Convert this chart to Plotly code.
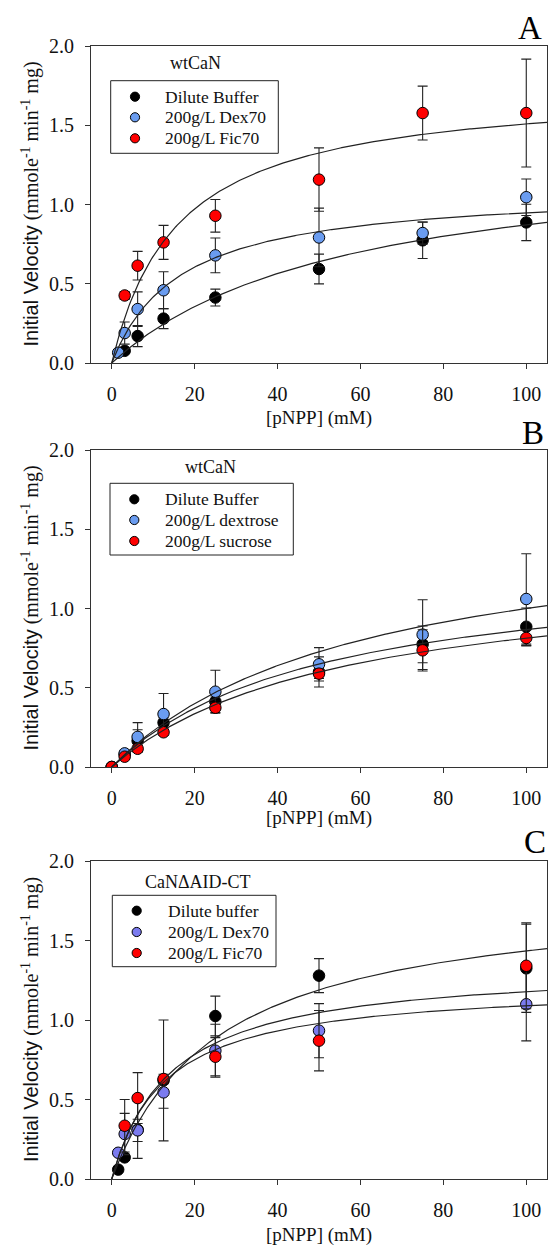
import numpy as np
import plotly.graph_objects as go

# ---------------- data ----------------
# Panel A (wtCaN, crowders)
A_dil_x = [3.125, 6.25, 12.5, 25, 50, 75, 100]
A_dil_y = [0.077, 0.17, 0.28, 0.413, 0.593, 0.774, 0.887]
A_dil_e = [0.012, 0.067, 0.063, 0.053, 0.094, 0.115, 0.115]
A_dex_x = [1.5625, 3.125, 6.25, 12.5, 25, 50, 75, 100]
A_dex_y = [0.065, 0.189, 0.34, 0.459, 0.679, 0.792, 0.82, 1.046]
A_dex_e = [0.01, 0.07, 0.109, 0.117, 0.11, 0.185, 0.07, 0.115]
A_fic_x = [3.125, 6.25, 12.5, 25, 50, 75, 100]
A_fic_y = [0.426, 0.614, 0.761, 0.929, 1.157, 1.577, 1.577]
A_fic_e = [0.025, 0.09, 0.107, 0.103, 0.2, 0.17, 0.34]
A_fit = {"dil": (1.368, 56.9), "dex": (1.104, 16.5), "fic": (1.75, 16.0)}
A_names = ["Dilute Buffer", "200g/L Dex70", "200g/L Fic70"]

# Panel B (wtCaN, sugars)
B_x = [0, 3.125, 6.25, 12.5, 25, 50, 75, 100]
B_dil_y = [0, 0.08, 0.165, 0.28, 0.412, 0.60, 0.774, 0.885]
B_dil_e = [0, 0.01, 0.07, 0.03, 0.03, 0.095, 0.116, 0.118]
B_dex_y = [0, 0.086, 0.19, 0.334, 0.475, 0.648, 0.835, 1.06]
B_dex_e = [0, 0.02, 0.09, 0.13, 0.135, 0.105, 0.22, 0.285]
B_suc_y = [0, 0.065, 0.115, 0.219, 0.374, 0.589, 0.736, 0.814]
B_suc_e = [0, 0.01, 0.02, 0.02, 0.03, 0.03, 0.13, 0.05]
B_fit = {"dil": (1.30, 50.0), "dex": (1.60, 60.0), "suc": (1.26, 55.0)}
B_names = ["Dilute Buffer", "200g/L dextrose", "200g/L sucrose"]

# Panel C (CaNΔAID-CT, crowders)
C_dil_x = [1.5625, 3.125, 6.25, 12.5, 25, 50, 100]
C_dil_y = [0.059, 0.136, 0.31, 0.62, 1.025, 1.279, 1.325]
C_dil_e = [0.01, 0.02, 0.18, 0.38, 0.125, 0.107, 0.277]
C_dex_x = [1.5625, 3.125, 6.25, 12.5, 25, 50, 100]
C_dex_y = [0.165, 0.283, 0.306, 0.545, 0.807, 0.933, 1.099]
C_dex_e = [0.01, 0.13, 0.07, 0.1, 0.166, 0.17, 0.23]
C_fic_x = [3.125, 6.25, 12.5, 25, 50, 100]
C_fic_y = [0.335, 0.509, 0.629, 0.769, 0.87, 1.341]
C_fic_e = [0.165, 0.16, 0.03, 0.12, 0.19, 0.27]
C_fit = {"dil": (1.806, 25.9), "dex": (1.228, 12.7), "fic": (1.348, 14.4)}
C_names = ["Dilute buffer", "200g/L Dex70", "200g/L Fic70"]

x_ticks = [0, 20, 40, 60, 80, 100]
y_ticks = [0.0, 0.5, 1.0, 1.5, 2.0]

BLACK = "#000000"
BLUE = "#6a9cf0"
BLUE_C = "#7b7bef"
RED = "#ff0000"

SERIF = "Liberation Serif"
W, H = 549, 1246

fig = go.Figure()

def add_points(x, y, e, color, name, xa, ya):
    fig.add_trace(go.Scatter(
        x=x, y=y, mode="markers", name=name,
        marker=dict(size=11.5, color=color, line=dict(color="#000", width=1)),
        error_y=dict(type="data", array=e, visible=True, color="#222",
                     thickness=1.1, width=5),
        xaxis=xa, yaxis=ya, showlegend=False))

def add_fit(params, xa, ya):
    vm, km = params
    xs = np.linspace(0, 105, 300)
    fig.add_trace(go.Scatter(
        x=xs, y=vm * xs / (km + xs), mode="lines",
        line=dict(color="#222", width=1.2),
        xaxis=xa, yaxis=ya, showlegend=False, hoverinfo="skip"))

# Panel A
add_points(A_dil_x, A_dil_y, A_dil_e, BLACK, A_names[0], "x", "y")
add_points(A_dex_x, A_dex_y, A_dex_e, BLUE, A_names[1], "x", "y")
add_points(A_fic_x, A_fic_y, A_fic_e, RED, A_names[2], "x", "y")
for k in ["dil", "dex", "fic"]:
    add_fit(A_fit[k], "x", "y")

# Panel B
add_points(B_x, B_dil_y, B_dil_e, BLACK, B_names[0], "x2", "y2")
add_points(B_x, B_dex_y, B_dex_e, BLUE, B_names[1], "x2", "y2")
add_points(B_x, B_suc_y, B_suc_e, RED, B_names[2], "x2", "y2")
for k in ["dil", "dex", "suc"]:
    add_fit(B_fit[k], "x2", "y2")

# Panel C
add_points(C_dil_x, C_dil_y, C_dil_e, BLACK, C_names[0], "x3", "y3")
add_points(C_dex_x, C_dex_y, C_dex_e, BLUE_C, C_names[1], "x3", "y3")
add_points(C_fic_x, C_fic_y, C_fic_e, RED, C_names[2], "x3", "y3")
for k in ["dil", "dex", "fic"]:
    add_fit(C_fit[k], "x3", "y3")

def px(x):
    return x / W

def py(y):
    return (H - y) / H

xdom = [px(91), px(547)]
panels = [(46, 363), (450, 767), (861, 1179)]

axis_common = dict(showline=True, mirror=True, linecolor="#333", linewidth=1,
                   ticks="outside", ticklen=5, tickcolor="#333",
                   showgrid=False, zeroline=False,
                   tickfont=dict(family=SERIF, size=20, color="#111"))

layout = dict(width=W, height=H,
              margin=dict(l=0, r=0, t=0, b=0, autoexpand=False),
              paper_bgcolor="white", plot_bgcolor="white", showlegend=False)

for i, (top, bot) in enumerate(panels):
    sfx = "" if i == 0 else str(i + 1)
    layout["xaxis" + sfx] = dict(axis_common, domain=xdom, range=[-5, 105],
                                 tickvals=x_ticks, anchor="y" + sfx,
                                 ticklabelstandoff=8)
    layout["yaxis" + sfx] = dict(axis_common, domain=[py(bot), py(top)],
                                 range=[0, 2], tickvals=y_ticks, tickformat=".1f",
                                 anchor="x" + sfx, ticklabelstandoff=7)

fig.update_layout(**layout)

ann = []
shapes = []
ytitle = ("<span style='font-family:Liberation Sans'>Initial Velocity</span> "
          "(mmole<sup>-1</sup> min<sup>-1</sup> mg)")
xtitle_y = [418, 818, 1235]
letters = [("A", 544, 28), ("B", 546, 433), ("C", 548, 842)]
subtitles = [("wtCaN", 195, 62.7), ("wtCaN", 210, 467), ("CaNΔAID-CT", 198, 881.7)]

# legend boxes: (left, top, right, bottom), marker x, text x, row ys
legend_geo = [
    ((110.7, 80.7, 278.3, 153.3), 135.0, 163.3, [96.7, 117.3, 138.3]),
    ((110.0, 483.3, 293.3, 555.0), 134.3, 163.3, [499.3, 520.0, 541.0]),
    ((112.3, 895.3, 276.0, 966.7), 136.7, 166.0, [910.7, 932.0, 953.0]),
]
legend_names = [A_names, B_names, C_names]
legend_colors = [[BLACK, BLUE, RED], [BLACK, BLUE, RED], [BLACK, BLUE_C, RED]]

for i, (top, bot) in enumerate(panels):
    ann.append(dict(text=ytitle, x=px(30), y=py((top + bot) / 2), xref="paper",
                    yref="paper", showarrow=False, textangle=-90,
                    xanchor="center", yanchor="middle",
                    font=dict(family=SERIF, size=20, color="#111")))
    ann.append(dict(text="[pNPP] (mM)", x=px(319), y=py(xtitle_y[i]), xref="paper",
                    yref="paper", showarrow=False, xanchor="center",
                    yanchor="middle", font=dict(family=SERIF, size=19, color="#111")))
    t, lx, ly = letters[i]
    ann.append(dict(text=t, x=px(lx), y=py(ly), xref="paper", yref="paper",
                    showarrow=False, xanchor="right", yanchor="middle",
                    font=dict(family=SERIF, size=33, color="#000")))
    s, sx, sy = subtitles[i]
    ann.append(dict(text=s, x=px(sx), y=py(sy), xref="paper", yref="paper",
                    showarrow=False, xanchor="center", yanchor="middle",
                    font=dict(family=SERIF, size=18, color="#111")))
    (l, tp, r, bt), mx, tx, rows = legend_geo[i]
    shapes.append(dict(type="rect", xref="paper", yref="paper",
                       x0=px(l), x1=px(r), y0=py(bt), y1=py(tp),
                       line=dict(color="#222", width=1), fillcolor="white",
                       layer="above"))
    for name, col, ry in zip(legend_names[i], legend_colors[i], rows):
        rad = 4.6
        shapes.append(dict(type="circle", xref="paper", yref="paper",
                           x0=px(mx - rad), x1=px(mx + rad),
                           y0=py(ry + rad), y1=py(ry - rad),
                           line=dict(color="#000", width=1), fillcolor=col,
                           layer="above"))
        ann.append(dict(text=name, x=px(tx), y=py(ry), xref="paper", yref="paper",
                        showarrow=False, xanchor="left", yanchor="middle",
                        font=dict(family=SERIF, size=17.5, color="#111")))

fig.update_layout(annotations=ann, shapes=shapes)

fig.write_html("out.html", config={"displayModeBar": False},
               post_script="document.body.style.margin='0';")
